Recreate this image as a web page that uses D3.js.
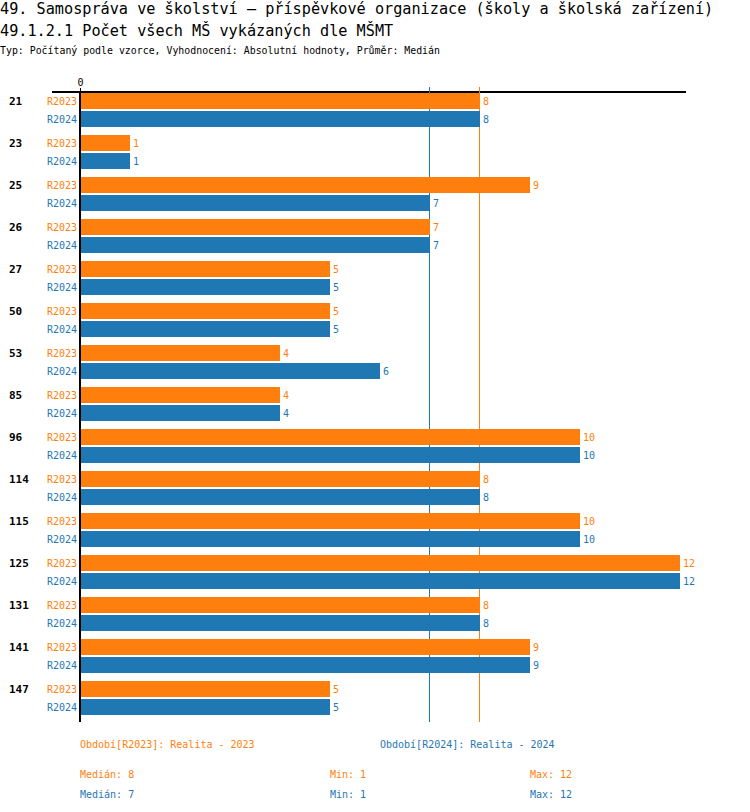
<!DOCTYPE html>
<html>
<head>
<meta charset="utf-8">
<script src="https://cdn.jsdelivr.net/npm/d3@7"></script>
<style>
  body { margin: 0; background: #fff; }
  text { font-family: "DejaVu Sans Mono", "Liberation Mono", monospace; }
</style>
</head>
<body>
<div id="chart"></div>
<script>
// data
const categories = ['21', '23', '25', '26', '27', '50', '53', '85', '96', '114', '115', '125', '131', '141', '147']
const seriesNames = ['R2023', 'R2024']
const values2023 = [8, 1, 9, 7, 5, 5, 4, 4, 10, 8, 10, 12, 8, 9, 5]
const values2024 = [8, 1, 7, 7, 5, 5, 6, 4, 10, 8, 10, 12, 8, 9, 5]
const legendLabels = ['Období[R2023]: Realita - 2023', 'Období[R2024]: Realita - 2024']
const medians = [8, 7]
const mins = [1, 1]
const maxs = [12, 12]
const colors = ['#ff7f0e', '#1f77b4']

const width = 750
const height = 812

const svg = d3.select('#chart').append('svg')
    .attr('width', width)
    .attr('height', height)

// titles
svg.append('text').attr('x', 0).attr('y', 14)
    .style('font-size', '15.2px')
    .text('49. Samospráva ve školství – příspěvkové organizace (školy a školská zařízení)')
svg.append('text').attr('x', 0).attr('y', 36)
    .style('font-size', '15.2px')
    .text('49.1.2.1 Počet všech MŠ vykázaných dle MŠMT')
svg.append('text').attr('x', 0).attr('y', 54)
    .style('font-size', '9.9px')
    .text('Typ: Počítaný podle vzorce, Vyhodnocení: Absolutní hodnoty, Průměr: Medián')

// scales
const xScale = d3.scaleLinear()
    .domain([0, 12])
    .range([80, 680])

const yScale = d3.scaleBand()
    .domain(categories)
    .range([93, 715])
    .paddingInner(8 / 42)

const subScale = d3.scaleBand()
    .domain(seriesNames)
    .range([0, yScale.bandwidth()])
    .paddingInner(1 / 9)

const axisTop = 92
const axisBottom = 722

// top axis line + tick
svg.append('line')
    .attr('x1', 52).attr('x2', 686)
    .attr('y1', axisTop).attr('y2', axisTop)
    .attr('stroke', '#000').attr('stroke-width', 2)

const xAxis = d3.axisTop(xScale).tickValues([0]).tickSize(4).tickSizeOuter(0)
const xAxisGroup = svg.append('g')
    .attr('transform', `translate(0, ${axisTop})`)
    .call(xAxis)
xAxisGroup.select('.domain').remove()
xAxisGroup.selectAll('text')
    .style('font-family', '"DejaVu Sans Mono", monospace')
    .style('font-size', '10px')
    .attr('y', -6)

// median lines
medians.forEach((m, i) => {
    svg.append('line')
        .attr('x1', xScale(m) - 0.5).attr('x2', xScale(m) - 0.5)
        .attr('y1', 87).attr('y2', axisBottom)
        .attr('stroke', colors[i]).attr('stroke-width', 1)
})

// bars
const groups = svg.selectAll('.group')
    .data(categories)
    .join('g')
    .attr('class', 'group')
    .attr('transform', d => `translate(0, ${yScale(d)})`)

groups.append('text')
    .attr('x', 9)
    .attr('y', subScale('R2023') + subScale.bandwidth() / 2)
    .attr('dy', '0.35em')
    .style('font-size', '11px')
    .style('font-weight', 'bold')
    .text(d => d)

const allValues = [values2023, values2024]

seriesNames.forEach((s, si) => {
    groups.append('rect')
        .attr('x', xScale(0))
        .attr('y', subScale(s))
        .attr('width', (d, i) => xScale(allValues[si][i]) - xScale(0))
        .attr('height', subScale.bandwidth())
        .attr('fill', colors[si])

    groups.append('text')
        .attr('x', 77)
        .attr('y', subScale(s) + subScale.bandwidth() / 2)
        .attr('dy', '0.35em')
        .attr('text-anchor', 'end')
        .attr('fill', colors[si])
        .style('font-size', '10px')
        .text(s)

    groups.append('text')
        .attr('x', (d, i) => xScale(allValues[si][i]) + 3)
        .attr('y', subScale(s) + subScale.bandwidth() / 2)
        .attr('dy', '0.35em')
        .attr('fill', colors[si])
        .style('font-size', '10px')
        .text((d, i) => allValues[si][i])
})

// zero axis line
svg.append('line')
    .attr('x1', xScale(0)).attr('x2', xScale(0))
    .attr('y1', axisTop - 1).attr('y2', axisBottom)
    .attr('stroke', '#000').attr('stroke-width', 2)

// legend
const legendX = [80, 380]
legendLabels.forEach((l, i) => {
    svg.append('text')
        .attr('x', legendX[i]).attr('y', 748)
        .attr('fill', colors[i])
        .style('font-size', '10px')
        .text(l)
})

// stats
const statsY = [778, 798]
seriesNames.forEach((s, i) => {
    svg.append('text').attr('x', 80).attr('y', statsY[i])
        .attr('fill', colors[i]).style('font-size', '10px')
        .text('Medián: ' + medians[i])
    svg.append('text').attr('x', 330).attr('y', statsY[i])
        .attr('fill', colors[i]).style('font-size', '10px')
        .text('Min: ' + mins[i])
    svg.append('text').attr('x', 530).attr('y', statsY[i])
        .attr('fill', colors[i]).style('font-size', '10px')
        .text('Max: ' + maxs[i])
})
</script>
</body>
</html>
